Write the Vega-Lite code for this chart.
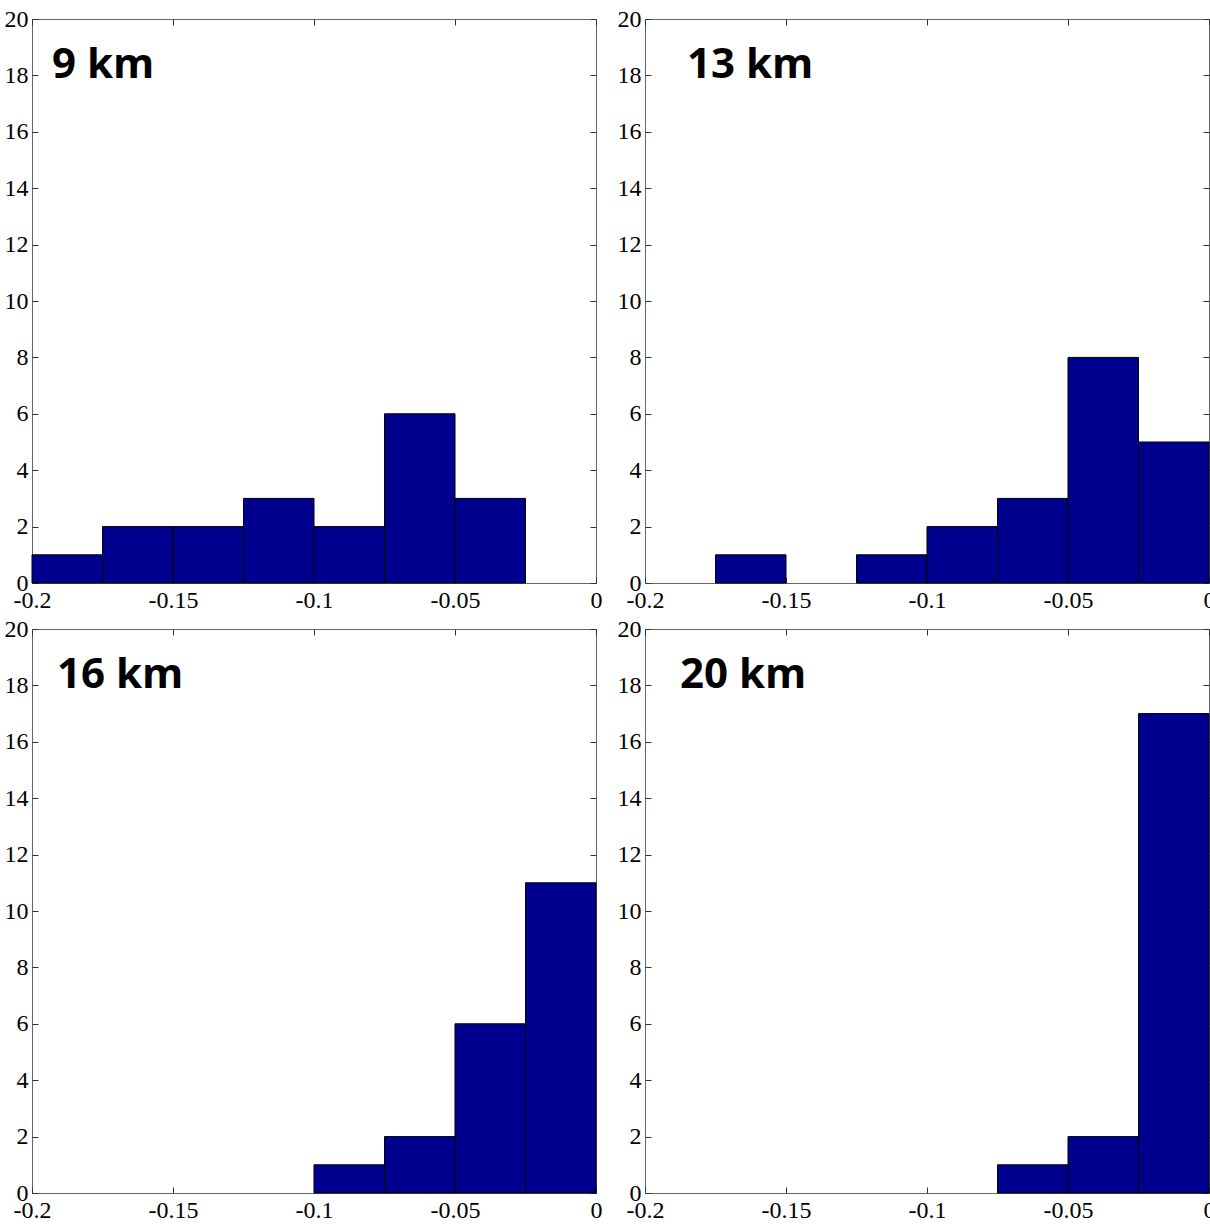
{
  "$schema": "https://vega.github.io/schema/vega-lite/v6.json",
  "background": "white",
  "padding": {"left": 3, "top": 6, "right": 0, "bottom": 0},
  "columns": 2,
  "bounds": "flush",
  "spacing": {"row": 46, "column": 49},
  "datasets": {
    "bars": [
      {"panel": "9 km", "x0": -0.2, "x1": -0.175, "count": 1},
      {"panel": "9 km", "x0": -0.175, "x1": -0.15, "count": 2},
      {"panel": "9 km", "x0": -0.15, "x1": -0.125, "count": 2},
      {"panel": "9 km", "x0": -0.125, "x1": -0.1, "count": 3},
      {"panel": "9 km", "x0": -0.1, "x1": -0.075, "count": 2},
      {"panel": "9 km", "x0": -0.075, "x1": -0.05, "count": 6},
      {"panel": "9 km", "x0": -0.05, "x1": -0.025, "count": 3},
      {"panel": "13 km", "x0": -0.175, "x1": -0.15, "count": 1},
      {"panel": "13 km", "x0": -0.125, "x1": -0.1, "count": 1},
      {"panel": "13 km", "x0": -0.1, "x1": -0.075, "count": 2},
      {"panel": "13 km", "x0": -0.075, "x1": -0.05, "count": 3},
      {"panel": "13 km", "x0": -0.05, "x1": -0.025, "count": 8},
      {"panel": "13 km", "x0": -0.025, "x1": 0, "count": 5},
      {"panel": "16 km", "x0": -0.1, "x1": -0.075, "count": 1},
      {"panel": "16 km", "x0": -0.075, "x1": -0.05, "count": 2},
      {"panel": "16 km", "x0": -0.05, "x1": -0.025, "count": 6},
      {"panel": "16 km", "x0": -0.025, "x1": 0, "count": 11},
      {"panel": "20 km", "x0": -0.075, "x1": -0.05, "count": 1},
      {"panel": "20 km", "x0": -0.05, "x1": -0.025, "count": 2},
      {"panel": "20 km", "x0": -0.025, "x1": 0, "count": 17}
    ]
  },
  "concat": [
    {
      "width": 564, "height": 564,
      "resolve": {"axis": {"x": "independent", "y": "independent"}},
      "layer": [
        {
          "data": {"name": "bars"},
          "transform": [{"filter": "datum.panel === '9 km'"}],
          "mark": {"type": "rect", "fill": "#00008f", "stroke": "#000000", "strokeWidth": 1},
          "encoding": {
            "x": {"field": "x0", "type": "quantitative", "scale": {"domain": [-0.2, 0], "nice": false, "zero": false}, "axis": {"orient": "bottom", "values": [-0.2, -0.15, -0.1, -0.05, 0], "labelExpr": "'' + datum.value", "labelPadding": 11}},
            "x2": {"field": "x1"},
            "y": {"field": "count", "type": "quantitative", "scale": {"domain": [0, 20], "nice": false}, "axis": {"orient": "left", "values": [0, 2, 4, 6, 8, 10, 12, 14, 16, 18, 20], "labelPadding": 10}},
            "y2": {"datum": 0}
          }
        },
        {
          "data": {"values": [{"label": "9 km"}]},
          "mark": {"type": "text", "font": "Open Sans", "fontWeight": "bold", "fontSize": 42, "align": "left", "baseline": "alphabetic", "color": "#000000"},
          "encoding": {
            "x": {"datum": -0.1929, "type": "quantitative", "axis": {"orient": "top", "labels": false, "values": [-0.2, -0.15, -0.1, -0.05, 0]}},
            "y": {"datum": 17.9, "type": "quantitative", "axis": {"orient": "right", "labels": false, "values": [0, 2, 4, 6, 8, 10, 12, 14, 16, 18, 20]}},
            "text": {"field": "label"}
          }
        }
      ]
    },
    {
      "width": 564, "height": 564,
      "resolve": {"axis": {"x": "independent", "y": "independent"}},
      "layer": [
        {
          "data": {"name": "bars"},
          "transform": [{"filter": "datum.panel === '13 km'"}],
          "mark": {"type": "rect", "fill": "#00008f", "stroke": "#000000", "strokeWidth": 1},
          "encoding": {
            "x": {"field": "x0", "type": "quantitative", "scale": {"domain": [-0.2, 0], "nice": false, "zero": false}, "axis": {"orient": "bottom", "values": [-0.2, -0.15, -0.1, -0.05, 0], "labelExpr": "'' + datum.value", "labelPadding": 11}},
            "x2": {"field": "x1"},
            "y": {"field": "count", "type": "quantitative", "scale": {"domain": [0, 20], "nice": false}, "axis": {"orient": "left", "values": [0, 2, 4, 6, 8, 10, 12, 14, 16, 18, 20], "labelPadding": 10}},
            "y2": {"datum": 0}
          }
        },
        {
          "data": {"values": [{"label": "13 km"}]},
          "mark": {"type": "text", "font": "Open Sans", "fontWeight": "bold", "fontSize": 42, "align": "left", "baseline": "alphabetic", "color": "#000000"},
          "encoding": {
            "x": {"datum": -0.1851, "type": "quantitative", "axis": {"orient": "top", "labels": false, "values": [-0.2, -0.15, -0.1, -0.05, 0]}},
            "y": {"datum": 17.9, "type": "quantitative", "axis": {"orient": "right", "labels": false, "values": [0, 2, 4, 6, 8, 10, 12, 14, 16, 18, 20]}},
            "text": {"field": "label"}
          }
        }
      ]
    },
    {
      "width": 564, "height": 564,
      "resolve": {"axis": {"x": "independent", "y": "independent"}},
      "layer": [
        {
          "data": {"name": "bars"},
          "transform": [{"filter": "datum.panel === '16 km'"}],
          "mark": {"type": "rect", "fill": "#00008f", "stroke": "#000000", "strokeWidth": 1},
          "encoding": {
            "x": {"field": "x0", "type": "quantitative", "scale": {"domain": [-0.2, 0], "nice": false, "zero": false}, "axis": {"orient": "bottom", "values": [-0.2, -0.15, -0.1, -0.05, 0], "labelExpr": "'' + datum.value", "labelPadding": 11}},
            "x2": {"field": "x1"},
            "y": {"field": "count", "type": "quantitative", "scale": {"domain": [0, 20], "nice": false}, "axis": {"orient": "left", "values": [0, 2, 4, 6, 8, 10, 12, 14, 16, 18, 20], "labelPadding": 10}},
            "y2": {"datum": 0}
          }
        },
        {
          "data": {"values": [{"label": "16 km"}]},
          "mark": {"type": "text", "font": "Open Sans", "fontWeight": "bold", "fontSize": 42, "align": "left", "baseline": "alphabetic", "color": "#000000"},
          "encoding": {
            "x": {"datum": -0.1911, "type": "quantitative", "axis": {"orient": "top", "labels": false, "values": [-0.2, -0.15, -0.1, -0.05, 0]}},
            "y": {"datum": 17.9, "type": "quantitative", "axis": {"orient": "right", "labels": false, "values": [0, 2, 4, 6, 8, 10, 12, 14, 16, 18, 20]}},
            "text": {"field": "label"}
          }
        }
      ]
    },
    {
      "width": 564, "height": 564,
      "resolve": {"axis": {"x": "independent", "y": "independent"}},
      "layer": [
        {
          "data": {"name": "bars"},
          "transform": [{"filter": "datum.panel === '20 km'"}],
          "mark": {"type": "rect", "fill": "#00008f", "stroke": "#000000", "strokeWidth": 1},
          "encoding": {
            "x": {"field": "x0", "type": "quantitative", "scale": {"domain": [-0.2, 0], "nice": false, "zero": false}, "axis": {"orient": "bottom", "values": [-0.2, -0.15, -0.1, -0.05, 0], "labelExpr": "'' + datum.value", "labelPadding": 11}},
            "x2": {"field": "x1"},
            "y": {"field": "count", "type": "quantitative", "scale": {"domain": [0, 20], "nice": false}, "axis": {"orient": "left", "values": [0, 2, 4, 6, 8, 10, 12, 14, 16, 18, 20], "labelPadding": 10}},
            "y2": {"datum": 0}
          }
        },
        {
          "data": {"values": [{"label": "20 km"}]},
          "mark": {"type": "text", "font": "Open Sans", "fontWeight": "bold", "fontSize": 42, "align": "left", "baseline": "alphabetic", "color": "#000000"},
          "encoding": {
            "x": {"datum": -0.1876, "type": "quantitative", "axis": {"orient": "top", "labels": false, "values": [-0.2, -0.15, -0.1, -0.05, 0]}},
            "y": {"datum": 17.9, "type": "quantitative", "axis": {"orient": "right", "labels": false, "values": [0, 2, 4, 6, 8, 10, 12, 14, 16, 18, 20]}},
            "text": {"field": "label"}
          }
        }
      ]
    }
  ],
  "config": {
    "view": {"stroke": "#666666", "strokeWidth": 1},
    "axis": {
      "title": null,
      "domain": false,
      "grid": false,
      "ticks": true,
      "tickSize": -6,
      "tickColor": "#333333",
      "tickWidth": 1,
      "labelFont": "Liberation Serif",
      "labelFontSize": 24,
      "labelColor": "#000000",
      "labelFlush": false,
      "labelOverlap": false
    }
  }
}
